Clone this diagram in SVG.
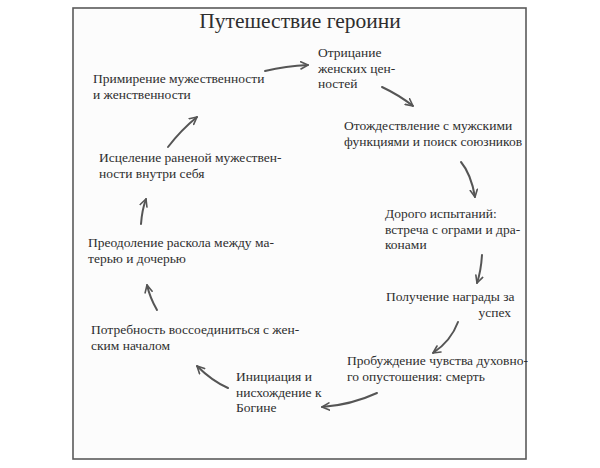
<svg xmlns="http://www.w3.org/2000/svg" width="600" height="468" viewBox="0 0 600 468">
<style>
text{font-family:"Liberation Serif","DejaVu Serif",serif;font-size:13.5px;fill:#2e2e2e}
.title{font-size:21.5px}
.arr{fill:none;stroke:#555;stroke-width:2;stroke-linecap:round;marker-end:url(#ah)}
</style>
<defs>
<marker id="ah" viewBox="0 0 10 10" refX="9" refY="5" markerWidth="9" markerHeight="9" markerUnits="userSpaceOnUse" orient="auto">
<path d="M1,1 L9,5 L1,9" fill="none" stroke="#555" stroke-width="1.8" stroke-linecap="round" stroke-linejoin="round"/>
</marker>
</defs>
<rect x="0" y="0" width="600" height="468" fill="#fff"/>
<rect id="frame" x="73" y="8" width="453" height="451" fill="#fcfcfc" stroke="#5a5a5a" stroke-width="1.6"/>
<text class="title" x="300" y="28" text-anchor="middle">Путешествие героини</text>
<g id="n1"><text x="318" y="57">Отрицание</text><text x="318" y="72.5">женских цен-</text><text x="318" y="88">ностей</text></g>
<g id="n2"><text x="344" y="130">Отождествление с мужскими</text><text x="344" y="146">функциями и поиск союзников</text></g>
<g id="n3"><text x="385" y="218">Дорого испытаний:</text><text x="385" y="233.5">встреча с ограми и дра-</text><text x="385" y="249">конами</text></g>
<g id="n4"><text x="386" y="301">Получение награды за</text><text x="511" y="316.5" text-anchor="end">успех</text></g>
<g id="n5"><text x="347" y="365">Пробуждение чувства духовно-</text><text x="347" y="380.5">го опустошения: смерть</text></g>
<g id="n6"><text x="236" y="381">Инициация и</text><text x="236" y="396.5">нисхождение к</text><text x="236" y="412">Богине</text></g>
<g id="n7"><text x="91" y="334">Потребность воссоединиться с жен-</text><text x="91" y="349.5">ским началом</text></g>
<g id="n8"><text x="88" y="247">Преодоление раскола между ма-</text><text x="88" y="262.5">терью и дочерью</text></g>
<g id="n9"><text x="99" y="162">Исцеление раненой мужествен-</text><text x="99" y="177.5">ности внутри себя</text></g>
<g id="n10"><text x="93" y="83">Примирение мужественности</text><text x="93" y="98.5">и женственности</text></g>
<g id="connectors">
<path class="arr" d="M265,71 Q286,66 308,65"/>
<path class="arr" d="M382,87 Q399,95 413,106"/>
<path class="arr" d="M461,162 Q471,174 475,197"/>
<path class="arr" d="M482,255 Q481,271 477,283"/>
<path class="arr" d="M458,322 Q451,341 433,353"/>
<path class="arr" d="M377,393 Q351,405 322,407"/>
<path class="arr" d="M228,388 Q212,381 197,366"/>
<path class="arr" d="M157,310 Q150,298 147,285"/>
<path class="arr" d="M141,224 Q142,210 146,199"/>
<path class="arr" d="M168,147 Q181,130 197,117"/>
</g>
</svg>
